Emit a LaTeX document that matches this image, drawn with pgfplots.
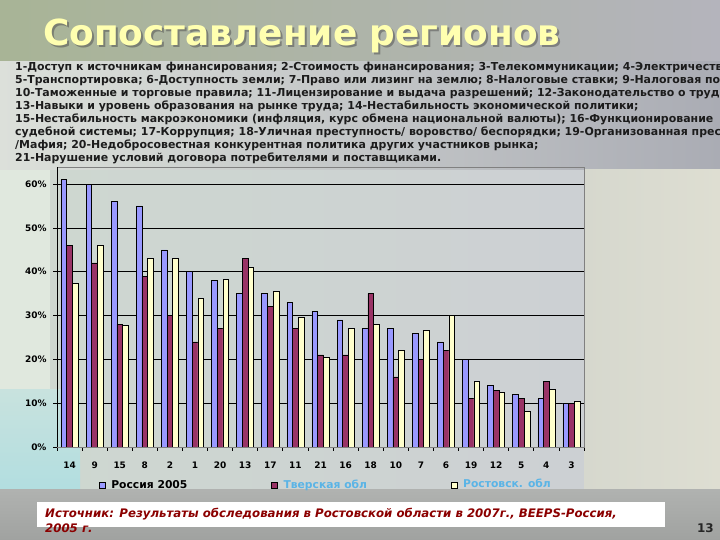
\documentclass[border=0pt]{standalone}
\usepackage{fontspec}
\setmainfont{DejaVu Sans}
\usepackage{pgfplots}
\pgfplotsset{compat=1.18}
\pgfplotsset{sqlegend/.style={legend image code/.code={\draw[##1] (0bp,-2.75bp) rectangle (5.5bp,2.75bp);}}}

\definecolor{rusblue}{HTML}{9999FF}
\definecolor{tverred}{HTML}{993366}
\definecolor{rostyel}{HTML}{FFFFCC}
\definecolor{legblue}{HTML}{5AB4E6}
\definecolor{srcred}{HTML}{8B0000}
\definecolor{titlecol}{HTML}{FFFFB0}
\definecolor{hdrtext}{HTML}{1C1C1C}
% background tones
\definecolor{bgL}{HTML}{CED8D0}
\definecolor{bgM}{HTML}{D8DCE6}
\definecolor{bgR}{HTML}{CCCED4}
\definecolor{topL}{HTML}{A8B496}
\definecolor{topM}{HTML}{8E8E9E}
\definecolor{topR}{HTML}{B4B4BC}
\definecolor{hdrL}{HTML}{DCE0DA}
\definecolor{hdrM}{HTML}{C6C8CE}
\definecolor{hdrR}{HTML}{AAACB4}
\definecolor{leftstrip}{HTML}{E0E8DE}
\definecolor{tealT}{HTML}{C8E2DE}
\definecolor{tealB}{HTML}{B2DEE0}
\definecolor{rightL}{HTML}{D6D8CE}
\definecolor{rightR}{HTML}{DEDED2}
\definecolor{botT}{HTML}{B0B2B0}
\definecolor{botB}{HTML}{A0A2A0}

\begin{document}
\begin{tikzpicture}[x=1bp,y=1bp]
\path[use as bounding box] (0,0) rectangle (720,540);
\clip (0,0) rectangle (720,540);

% slide background
\shade[left color=bgL, middle color=bgM, right color=bgR] (0,0) rectangle (720,540);
\shade[left color=topL, middle color=topM, right color=topR] (0,478) rectangle (720,540);
\shade[left color=hdrL, middle color=hdrM, right color=hdrR] (0,370) rectangle (720,478);
\fill[leftstrip] (0,150) rectangle (50,370);
\shade[top color=tealT, bottom color=tealB] (0,50) rectangle (80,150);
\shade[left color=rightL, right color=rightR] (584,50) rectangle (720,370);
\shade[top color=botT, bottom color=botB] (0,0) rectangle (720,50);

% title
\node[anchor=base west, inner sep=0, font=\bfseries\fontsize{36}{38}\selectfont, text=black!70, opacity=0.5]
  at (45,492) {Сопоставление регионов};
\node[anchor=base west, inner sep=0, font=\bfseries\fontsize{36}{38}\selectfont, text=titlecol]
  at (43,494) {Сопоставление регионов};

% factor list
\begin{scope}[every node/.style={anchor=base west, inner sep=0, text=hdrtext, font=\bfseries\fontsize{11}{13}\selectfont}]
\node at (15,469) {1-Доступ к источникам финансирования; 2-Стоимость финансирования; 3-Телекоммуникации; 4-Электричество;};
\node at (15,456) {5-Транспортировка; 6-Доступность земли; 7-Право или лизинг на землю; 8-Налоговые ставки; 9-Налоговая политика;};
\node at (15,443) {10-Таможенные и торговые правила; 11-Лицензирование и выдача разрешений; 12-Законодательство о труде;};
\node at (15,430) {13-Навыки и уровень образования на рынке труда; 14-Нестабильность экономической политики;};
\node at (15,417) {15-Нестабильность макроэкономики (инфляция, курс обмена национальной валюты); 16-Функционирование};
\node at (15,404) {судебной системы; 17-Коррупция; 18-Уличная преступность/ воровство/ беспорядки; 19-Организованная преступность};
\node at (15,391) {/Мафия; 20-Недобросовестная конкурентная политика других участников рынка;};
\node at (15,378) {21-Нарушение условий договора потребителями и поставщиками.};
\end{scope}

\begin{axis}[
    at={(57bp,93bp)}, anchor=south west,
    width=527bp, height=280bp, scale only axis,
    ybar=0pt, bar width=5.7bp,
    xmin=-0.5, xmax=20.5, ymin=0, ymax=63.9,
    xtick={0,...,20},
    xticklabels={14,9,15,8,2,1,20,13,17,11,21,16,18,10,7,6,19,12,5,4,3},
    minor xtick={-0.5,0.5,...,20.5},
    major x tick style={draw=none},
    ytick={0,10,...,60},
    yticklabels={0\%,10\%,20\%,30\%,40\%,50\%,60\%},
    tick align=outside, xtick pos=bottom, ytick pos=left,
    major tick length=4bp, minor tick length=4bp,
    tick style={black, line width=0.8bp},
    ymajorgrids, grid style={black, line width=0.8bp},
    axis line style={draw=gray, line width=0.8bp},
    ticklabel style={font=\bfseries\fontsize{9}{10}\selectfont},
    xticklabel style={yshift=-7bp},
    yticklabel style={xshift=-3bp},
    /pgf/number format/assume math mode=true,
    legend style={at={(0.074,-0.136)}, anchor=west, draw=none, fill=none,
        legend columns=3, font=\bfseries\fontsize{10.8}{12}\selectfont,
        /tikz/every odd column/.append style={column sep=4bp},
        /tikz/every even column/.append style={column sep=82bp}},
]
\addplot[fill=rusblue, draw=black, line width=0.6bp, sqlegend] coordinates {
  (0,61) (1,60) (2,56) (3,55) (4,45) (5,40) (6,38) (7,35) (8,35) (9,33) (10,31)
  (11,29) (12,27) (13,27) (14,26) (15,24) (16,20) (17,14) (18,12) (19,11) (20,10)};
\addplot[fill=tverred, draw=black, line width=0.6bp, sqlegend] coordinates {
  (0,46) (1,42) (2,28) (3,39) (4,30) (5,24) (6,27) (7,43) (8,32) (9,27) (10,21)
  (11,21) (12,35) (13,16) (14,20) (15,22) (16,11) (17,13) (18,11) (19,15) (20,10)};
\addplot[fill=rostyel, draw=black, line width=0.6bp, sqlegend] coordinates {
  (0,37.3) (1,46) (2,27.7) (3,43) (4,43) (5,34) (6,38.2) (7,41) (8,35.5) (9,29.5) (10,20.5)
  (11,27) (12,28) (13,22) (14,26.6) (15,30) (16,15) (17,12.5) (18,8.2) (19,13.2) (20,10.5)};
\legend{Россия 2005, \textcolor{legblue}{Тверская обл}, \raisebox{3bp}{\textcolor{legblue}{Ростовск. обл}}}
\draw[black, line width=0.8bp] (rel axis cs:0,0) -- (rel axis cs:0,1);
\draw[black, line width=0.8bp] (rel axis cs:0,0) -- (rel axis cs:1,0);
\end{axis}

% source box
\fill[white] (37,13) rectangle (665,38);
\node[anchor=base west, inner sep=0, text=srcred, font=\bfseries\itshape\fontsize{11.8}{13}\selectfont]
  at (45,22) {Источник: Результаты обследования в Ростовской области в 2007г., BEEPS-Россия,};
\node[anchor=base west, inner sep=0, text=srcred, font=\bfseries\itshape\fontsize{11.8}{13}\selectfont]
  at (45,7) {2005 г.};
\node[anchor=base east, inner sep=0, text=black!85, font=\bfseries\fontsize{12}{14}\selectfont]
  at (714,7) {13};
\end{tikzpicture}
\end{document}
